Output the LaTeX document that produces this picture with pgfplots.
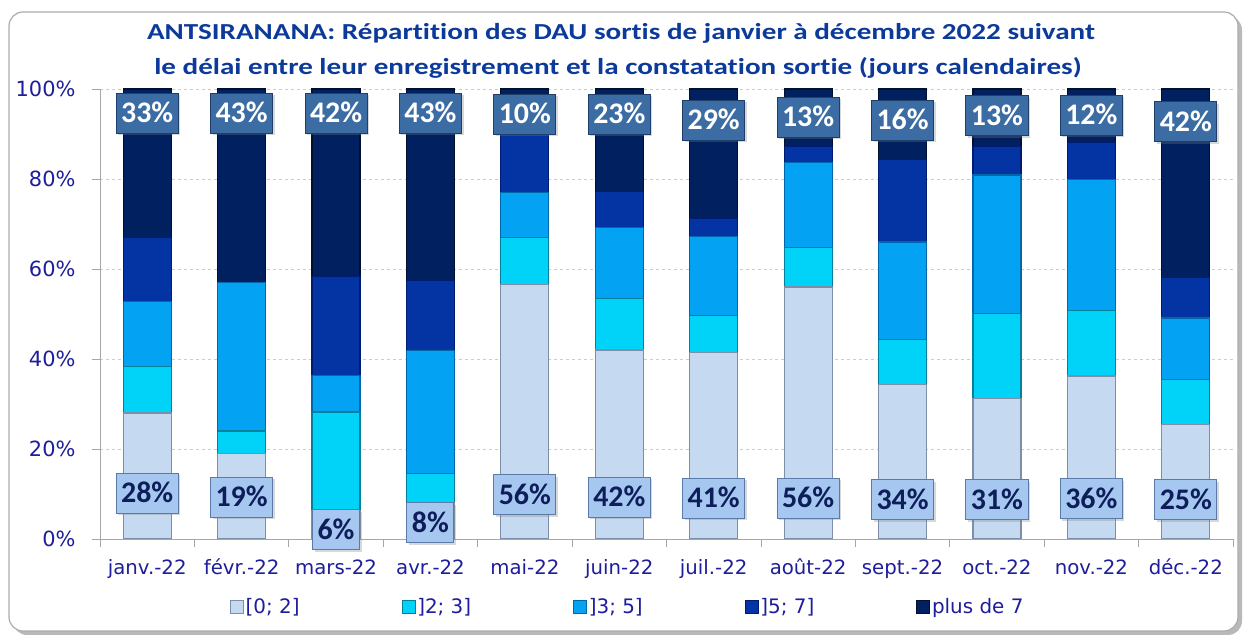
\documentclass[border=0pt]{standalone}
\usepackage{pgfplots}
\usepackage{pgfplotstable}
\pgfplotsset{compat=1.18}
\usepackage{fontspec}
\setmainfont{Carlito}[Ligatures=NoCommon]
\newfontfamily\dejavu{DejaVu Sans}
\usetikzlibrary{shadows}

\definecolor{titleblue}{HTML}{0C3A9B}
\definecolor{tickblue}{HTML}{1E1E9C}
\definecolor{ca}{HTML}{C5D9F1}\definecolor{cae}{HTML}{7D8FA8}
\definecolor{cb}{HTML}{00D2F8}\definecolor{cbe}{HTML}{00809C}
\definecolor{cc}{HTML}{04A2F2}\definecolor{cce}{HTML}{0068A8}
\definecolor{cd}{HTML}{0434A4}\definecolor{cde}{HTML}{001C70}
\definecolor{ce}{HTML}{00205F}\definecolor{cee}{HTML}{00102E}
\definecolor{labbot}{HTML}{A6C8F0}\definecolor{labbote}{HTML}{5A7BA8}
\definecolor{labtop}{HTML}{3B6CA3}\definecolor{labtope}{HTML}{1E3F6A}
\definecolor{labtext}{HTML}{0E1E5B}

\pgfplotstableread{
x a b c d e
0 28 10.4 14.4 14.2 33
1 19 5 33 0 43
2 6.2 22 8.2 22 41.6
3 8 6.6 27.2 15.6 42.6
4 56.5 10.5 10 12.8 10.2
5 42 11.4 15.8 8 22.8
6 41.4 8.3 17.6 4 28.7
7 56 8.7 19 3.6 12.7
8 34.4 9.9 21.7 18.3 15.7
9 31.2 18.9 30.8 6.4 12.7
10 36.2 14.5 29.2 8.3 11.8
11 25.5 10 13.6 9 41.9
}\data

\pgfplotstableread{
x y lab
0 10.2 28\%
1 9.3 19\%
2 2.0 6\%
3 3.6 8\%
4 9.8 56\%
5 9.3 42\%
6 9.1 41\%
7 9.1 56\%
8 8.7 34\%
9 8.7 31\%
10 8.9 36\%
11 8.7 25\%
}\botlabels

\pgfplotstableread{
x y lab
0 94.6 33\%
1 94.6 43\%
2 94.6 42\%
3 94.6 43\%
4 94.4 10\%
5 94.4 23\%
6 93.0 29\%
7 93.7 13\%
8 93.1 16\%
9 94.0 13\%
10 94.2 12\%
11 92.7 42\%
}\toplabels

\begin{document}
\begin{tikzpicture}[x=1bp,y=1bp]
\useasboundingbox (0,0) rectangle (1243,639);
% frame
\fill[gray!55, rounded corners=14bp] (13,4) rectangle (1242,623);
\filldraw[fill=white, draw=gray!65, line width=1.2bp, rounded corners=14bp] (9,8) rectangle (1238,627);
% title
\node[anchor=base, text=titleblue, xscale=1.27, font=\fontsize{23}{28}\selectfont\bfseries] at (621,599)
  {ANTSIRANANA: Répartition des DAU sortis de janvier à décembre 2022 suivant};
\node[anchor=base, text=titleblue, xscale=1.27, font=\fontsize{23}{28}\selectfont\bfseries] at (618,564)
  {le délai entre leur enregistrement et la constatation sortie (jours calendaires)};

\begin{axis}[
  at={(100bp,100bp)}, anchor=south west, scale only axis,
  width=1133bp, height=450bp,
  ybar stacked, bar width=48bp,
  xmin=-0.5, xmax=11.5, ymin=0, ymax=100,
  xtick={-0.5,0.5,...,11.5}, xticklabel={\relax},
  ytick={0,20,40,60,80,100},
  yticklabels={0\%,20\%,40\%,60\%,80\%,100\%},
  tick align=outside, major tick length=8bp,
  tick style={gray!70, line width=0.8bp},
  axis x line*=bottom, axis y line*=left,
  axis line style={gray!70, line width=0.8bp, -},
  ymajorgrids, grid style={dashed, gray!40, line width=0.6bp},
  yticklabel style={font=\dejavu\fontsize{21}{24}\selectfont, text=tickblue, xshift=-13bp},
  legend columns=5,
  legend style={at={(0.112,-0.151)}, anchor=west, draw=none, fill=none,
    font=\dejavu\fontsize{20}{22}\selectfont, text=tickblue,
    /tikz/every even column/.append style={column sep=0bp}},
  legend cell align=left,
  legend image code/.code={\draw[#1, line width=0.6bp] (0bp,-6.5bp) rectangle (13bp,6.5bp);},
]
\addplot[fill=ca, draw=cae, line width=1.2bp] table[x=x, y=a] \data;
\addlegendentry{\makebox[154bp][l]{[0; 2]}}
\addplot[fill=cb, draw=cbe, line width=1.2bp] table[x=x, y=b] \data;
\addlegendentry{\makebox[154bp][l]{]2; 3]}}
\addplot[fill=cc, draw=cce, line width=1.2bp] table[x=x, y=c] \data;
\addlegendentry{\makebox[154bp][l]{]3; 5]}}
\addplot[fill=cd, draw=cde, line width=1.2bp] table[x=x, y=d] \data;
\addlegendentry{\makebox[154bp][l]{]5; 7]}}
\addplot[fill=ce, draw=cee, line width=1.2bp] table[x=x, y=e] \data;
\addlegendentry{plus de 7}
\end{axis}

\begin{axis}[
  at={(100bp,100bp)}, anchor=south west, scale only axis,
  width=1133bp, height=450bp,
  xmin=-0.5, xmax=11.5, ymin=0, ymax=100,
  axis line style={draw=none}, tick style={draw=none},
  ytick=\empty, xtick={0,...,11},
  xticklabels={janv.-22,févr.-22,mars-22,avr.-22,mai-22,juin-22,juil.-22,août-22,sept.-22,oct.-22,nov.-22,déc.-22},
  xticklabel style={font=\dejavu\fontsize{19.8}{22}\selectfont, text=tickblue, anchor=base, yshift=-36bp},
  clip=false,
]
\addplot[draw=none, mark=none, nodes near coords, point meta=explicit symbolic,
  every node near coord/.append style={anchor=center, fill=labbot, draw=labbote, line width=1bp,
    text=labtext, font=\fontsize{30}{32}\selectfont\bfseries, inner xsep=5bp, inner ysep=0bp,
    minimum height=40bp, text height=19bp, text depth=0bp,
    drop shadow={shadow xshift=2bp, shadow yshift=-2bp, opacity=0.3}}]
  table[x=x, y=y, meta=lab] \botlabels;
\addplot[draw=none, mark=none, nodes near coords, point meta=explicit symbolic,
  every node near coord/.append style={anchor=center, fill=labtop, draw=labtope, line width=1bp,
    text=white, font=\fontsize{30}{32}\selectfont\bfseries, inner xsep=5bp, inner ysep=0bp,
    minimum height=40bp, text height=19bp, text depth=0bp,
    drop shadow={shadow xshift=2bp, shadow yshift=-2bp, opacity=0.3}}]
  table[x=x, y=y, meta=lab] \toplabels;
\end{axis}
\end{tikzpicture}
\end{document}
